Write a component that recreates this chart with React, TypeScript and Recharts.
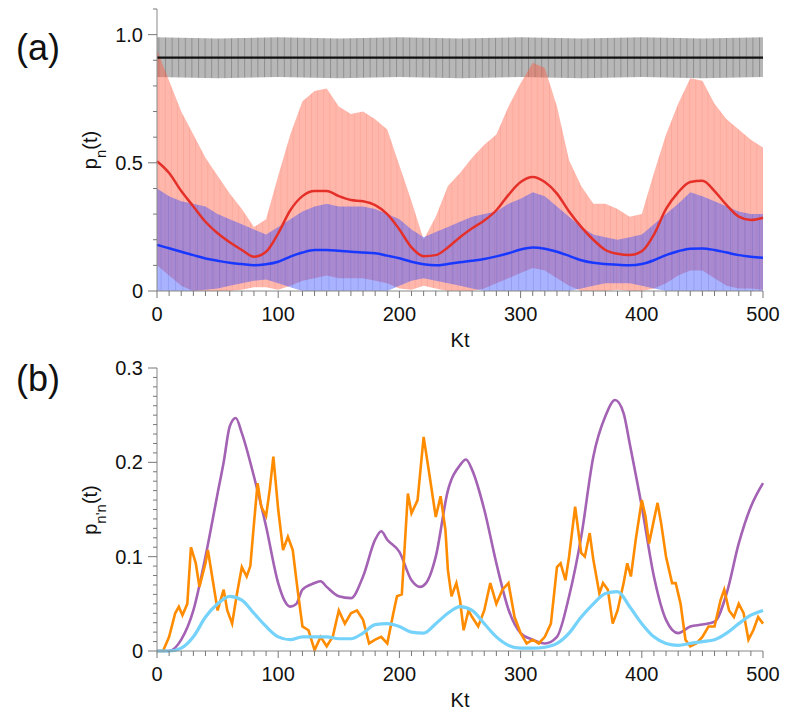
import React from 'react'
import { ComposedChart, Area, Line, XAxis, YAxis } from 'recharts'

// time axis of panel (a), every 10 units of Kt
const KT = Array.from({ length: 51 }, (_, i) => i * 10)

// panel (a): envelopes of the fast oscillations and their time averages
const RED_HI = [0.94, 0.82, 0.7, 0.61, 0.52, 0.45, 0.38, 0.32, 0.25, 0.28, 0.45, 0.61, 0.74, 0.78, 0.79, 0.72, 0.69, 0.7, 0.67, 0.63, 0.49, 0.35, 0.2, 0.29, 0.41, 0.46, 0.52, 0.57, 0.61, 0.72, 0.81, 0.89, 0.87, 0.72, 0.51, 0.41, 0.34, 0.34, 0.32, 0.29, 0.3, 0.46, 0.61, 0.73, 0.83, 0.82, 0.73, 0.67, 0.63, 0.59, 0.56]
const RED_LO = [0.1, 0.06, 0.02, 0, 0, 0, 0, 0.005, 0.015, 0.015, 0.005, 0.02, 0.04, 0.05, 0.06, 0.05, 0.05, 0.05, 0.04, 0.03, 0.01, 0.005, 0.02, 0.01, 0, 0, 0, 0.01, 0.03, 0.05, 0.07, 0.09, 0.08, 0.05, 0.02, 0, 0, 0, 0.005, 0, 0, 0.01, 0.03, 0.06, 0.08, 0.08, 0.05, 0.02, 0.01, 0.01, 0.005]
const RED_MEAN = [0.506, 0.46, 0.39, 0.33, 0.27, 0.225, 0.19, 0.16, 0.134, 0.153, 0.225, 0.315, 0.37, 0.39, 0.39, 0.37, 0.355, 0.35, 0.335, 0.3, 0.24, 0.17, 0.136, 0.14, 0.17, 0.21, 0.245, 0.275, 0.315, 0.375, 0.425, 0.445, 0.425, 0.38, 0.31, 0.25, 0.2, 0.16, 0.145, 0.14, 0.155, 0.22, 0.32, 0.385, 0.425, 0.43, 0.39, 0.335, 0.29, 0.277, 0.286]
const BLUE_HI = [0.4, 0.37, 0.35, 0.34, 0.33, 0.3, 0.28, 0.26, 0.24, 0.22, 0.25, 0.28, 0.31, 0.33, 0.34, 0.33, 0.33, 0.33, 0.32, 0.3, 0.28, 0.24, 0.21, 0.23, 0.25, 0.27, 0.29, 0.3, 0.31, 0.34, 0.36, 0.385, 0.37, 0.33, 0.29, 0.25, 0.22, 0.21, 0.2, 0.21, 0.22, 0.26, 0.3, 0.34, 0.385, 0.37, 0.35, 0.33, 0.31, 0.3, 0.3]
const BLUE_LO = [0, 0, 0, 0, 0.005, 0.01, 0.02, 0.03, 0.04, 0.045, 0.03, 0.015, 0, 0, 0, 0, 0, 0, 0, 0, 0.02, 0.04, 0.05, 0.04, 0.03, 0.02, 0.01, 0, 0, 0, 0, 0, 0, 0, 0, 0.01, 0.02, 0.03, 0.03, 0.03, 0.02, 0.01, 0, 0, 0, 0, 0, 0, 0, 0, 0]
const BLUE_MEAN = [0.18, 0.167, 0.153, 0.14, 0.127, 0.118, 0.11, 0.105, 0.1, 0.104, 0.114, 0.134, 0.15, 0.16, 0.16, 0.157, 0.153, 0.15, 0.147, 0.138, 0.128, 0.114, 0.104, 0.1, 0.105, 0.112, 0.118, 0.125, 0.135, 0.147, 0.162, 0.17, 0.165, 0.153, 0.137, 0.12, 0.11, 0.105, 0.102, 0.1, 0.105, 0.12, 0.14, 0.155, 0.165, 0.166, 0.16, 0.15, 0.14, 0.134, 0.13]

// n = 0 level: coarse grid
const GRAY_T = [0, 50, 100, 150, 200, 250, 300, 350, 400, 450, 500]
const GRAY_HI = [0.99, 0.985, 0.99, 0.985, 0.99, 0.985, 0.99, 0.985, 0.99, 0.985, 0.99]
const GRAY_LO = [0.835, 0.83, 0.835, 0.83, 0.835, 0.83, 0.835, 0.83, 0.835, 0.83, 0.835]
const GRAY_MEAN = [0.91, 0.91, 0.91, 0.91, 0.91, 0.91, 0.91, 0.91, 0.91, 0.91, 0.91]

// panel (b): [Kt, p] pairs
const PURPLE = [[0, 0], [10, 0], [20, 0.012], [30, 0.043], [40, 0.1], [50, 0.167], [55, 0.2], [60, 0.238], [65, 0.247], [70, 0.231], [80, 0.185], [90, 0.132], [100, 0.072], [105, 0.054], [110, 0.047], [115, 0.05], [120, 0.065], [130, 0.072], [135, 0.074], [140, 0.068], [150, 0.058], [160, 0.056], [170, 0.079], [180, 0.118], [185, 0.127], [190, 0.118], [200, 0.105], [210, 0.075], [217, 0.068], [222, 0.072], [230, 0.1], [240, 0.17], [250, 0.197], [255, 0.203], [260, 0.192], [270, 0.15], [280, 0.093], [290, 0.044], [300, 0.019], [310, 0.012], [320, 0.008], [330, 0.015], [340, 0.058], [350, 0.121], [360, 0.206], [370, 0.249], [378, 0.266], [385, 0.252], [390, 0.22], [400, 0.153], [410, 0.079], [420, 0.033], [430, 0.019], [440, 0.026], [450, 0.028], [460, 0.031], [470, 0.061], [480, 0.114], [490, 0.153], [500, 0.178]]
const ORANGE = [[0, 0], [5, 0], [10, 0.015], [15, 0.04], [18, 0.047], [21, 0.038], [25, 0.05], [28, 0.11], [32, 0.093], [35, 0.068], [40, 0.093], [42, 0.107], [46, 0.075], [50, 0.043], [55, 0.065], [58, 0.043], [62, 0.029], [66, 0.061], [70, 0.089], [74, 0.079], [77, 0.09], [80, 0.135], [83, 0.178], [86, 0.153], [90, 0.143], [93, 0.171], [96, 0.206], [100, 0.15], [104, 0.107], [108, 0.121], [112, 0.107], [116, 0.065], [120, 0.026], [125, 0.022], [130, 0.001], [135, 0.015], [140, 0.005], [145, 0.015], [150, 0.043], [155, 0.029], [160, 0.04], [165, 0.043], [170, 0.033], [175, 0.008], [180, 0.012], [185, 0.015], [190, 0.008], [195, 0.04], [198, 0.058], [202, 0.06], [207, 0.167], [210, 0.146], [215, 0.16], [220, 0.227], [225, 0.185], [230, 0.142], [234, 0.164], [238, 0.128], [240, 0.086], [243, 0.058], [247, 0.072], [250, 0.054], [253, 0.022], [257, 0.043], [260, 0.036], [265, 0.026], [270, 0.043], [275, 0.072], [280, 0.05], [285, 0.065], [290, 0.072], [295, 0.036], [300, 0.019], [305, 0.008], [310, 0.012], [315, 0.008], [320, 0.015], [325, 0.029], [330, 0.089], [333, 0.093], [337, 0.075], [340, 0.1], [345, 0.153], [350, 0.104], [353, 0.1], [357, 0.125], [360, 0.097], [365, 0.061], [368, 0.072], [372, 0.065], [376, 0.029], [380, 0.043], [385, 0.072], [388, 0.093], [391, 0.079], [395, 0.118], [400, 0.16], [403, 0.143], [406, 0.114], [410, 0.139], [413, 0.157], [416, 0.135], [420, 0.1], [425, 0.072], [428, 0.072], [432, 0.05], [436, 0.012], [440, 0.005], [445, 0.008], [450, 0.015], [455, 0.026], [460, 0.026], [465, 0.054], [468, 0.065], [472, 0.043], [476, 0.036], [480, 0.05], [484, 0.04], [488, 0.012], [492, 0.022], [496, 0.036], [500, 0.029]]
const CYAN = [0, 0, 0.003, 0.015, 0.036, 0.05, 0.058, 0.054, 0.04, 0.026, 0.015, 0.012, 0.015, 0.015, 0.015, 0.013, 0.013, 0.019, 0.028, 0.029, 0.026, 0.02, 0.019, 0.029, 0.04, 0.047, 0.043, 0.029, 0.015, 0.006, 0.003, 0.003, 0.004, 0.008, 0.019, 0.036, 0.05, 0.061, 0.063, 0.047, 0.029, 0.015, 0.008, 0.006, 0.008, 0.01, 0.012, 0.019, 0.029, 0.038, 0.043]

const X_TICKS = KT
const A_TICKS = [0, 0.1, 0.2, 0.3, 0.4, 0.5, 0.6, 0.7, 0.8, 0.9, 1.0, 1.1]
const B_TICKS = Array.from({ length: 31 }, (_, i) => i / 100)

const FONT = '"Liberation Sans", Arial, Helvetica, sans-serif'

const rowsA = KT.map((t, i) => ({
  t,
  red: [RED_LO[i], RED_HI[i]],
  redMean: RED_MEAN[i],
  blue: [BLUE_LO[i], BLUE_HI[i]],
  blueMean: BLUE_MEAN[i],
}))
const rowsGray = GRAY_T.map((t, i) => ({ t, gray: [GRAY_LO[i], GRAY_HI[i]], mean: GRAY_MEAN[i] }))
const rowsPurple = PURPLE.map(([t, p]) => ({ t, p }))
const rowsOrange = ORANGE.map(([t, p]) => ({ t, p }))
const rowsCyan = KT.map((t, i) => ({ t, p: CYAN[i] }))

const XTick = (props: any) => {
  const { x, y, payload } = props
  const v = payload.value
  const major = v % 100 === 0
  return (
    <g>
      <line x1={x} x2={x} y1={y} y2={y + (major ? 7 : 5)} stroke='#777' />
      {major && (
        <text x={x} y={y + 23} textAnchor='middle' dominantBaseline='central' fontSize={20} fill='#111' fontFamily={FONT}>
          {v}
        </text>
      )}
    </g>
  )
}

// step: spacing of minor ticks, every: how many minor steps per labelled tick, last: highest labelled index
const makeYTick = (step: number, every: number, last: number) => (props: any) => {
  const { x, y, payload } = props
  const k = Math.round(payload.value / step)
  const isLabel = k % every === 0 && k <= last
  return (
    <g>
      <line x1={x - (isLabel ? 9 : 4)} x2={x} y1={y} y2={y} stroke='#777' />
      {isLabel && (
        <text x={x - 14} y={y} textAnchor='end' dominantBaseline='central' fontSize={20} fill='#111' fontFamily={FONT}>
          {payload.value === 0 ? '0' : payload.value.toFixed(1)}
        </text>
      )}
    </g>
  )
}

const YTickA = makeYTick(0.1, 5, 10)
const YTickB = makeYTick(0.01, 10, 30)

const KtLabel = (props: any) => {
  const vb = props.viewBox || {}
  return (
    <text x={vb.x + vb.width / 2} y={vb.y + 49} textAnchor='middle' dominantBaseline='central' fontSize={20} fill='#111' fontFamily={FONT}>
      Kt
    </text>
  )
}

const PLabel = (sub: string, cy: number) => () => (
  <text transform={`translate(97,${cy}) rotate(-90)`} textAnchor='middle' fontSize={20} fill='#111' fontFamily={FONT}>
    p<tspan baselineShift='sub' fontSize={15}>{sub}</tspan>(t)
  </text>
)

const PanelLetter = ({ text, top }: { text: string; top: number }) => (
  <div style={{ position: 'absolute', left: 16, top, fontSize: 36, fontFamily: FONT, color: '#111', lineHeight: '40px' }}>{text}</div>
)

export default function App(): JSX.Element {
  return (
    <div style={{ position: 'absolute', left: 0, top: 0, width: 789, height: 725, background: '#fff', fontFamily: FONT }}>
      <PanelLetter text='(a)' top={28} />
      <PanelLetter text='(b)' top={359} />

      <div style={{ position: 'absolute', left: 0, top: 0 }}>
        <ComposedChart width={789} height={360} margin={{ top: 9, right: 26, bottom: 9, left: 97 }}>
          <defs>
            <pattern id='grayTex' width='6.6' height='8' patternUnits='userSpaceOnUse'>
              <rect width='6.6' height='8' fill='#b7b7b7' />
              <rect width='1' height='8' fill='#909090' />
            </pattern>
            <pattern id='redTex' width='6.1' height='8' patternUnits='userSpaceOnUse'>
              <rect width='6.1' height='8' fill='#ff5a40' fillOpacity={0.44} />
              <rect width='0.7' height='8' fill='#e0503a' fillOpacity={0.18} />
            </pattern>
            <pattern id='blueTex' width='7.3' height='8' patternUnits='userSpaceOnUse'>
              <rect width='7.3' height='8' fill='#3c50ff' fillOpacity={0.44} />
              <rect width='0.7' height='8' fill='#2030b0' fillOpacity={0.22} />
            </pattern>
          </defs>
          <XAxis
            type='number'
            dataKey='t'
            domain={[0, 500]}
            ticks={X_TICKS}
            interval={0}
            tickSize={0}
            tickMargin={0}
            tickLine={false}
            tick={<XTick />}
            axisLine={{ stroke: '#888' }}
            height={60}
            label={<KtLabel />}
          />
          <YAxis
            type='number'
            domain={[0, 1.1]}
            ticks={A_TICKS}
            interval={0}
            tickSize={0}
            tickMargin={0}
            tickLine={false}
            tick={<YTickA />}
            axisLine={{ stroke: '#888' }}
            width={60}
            label={PLabel('n', 150)}
          />
          <Area data={rowsGray} dataKey='gray' type='linear' stroke='none' fill='url(#grayTex)' fillOpacity={1} isAnimationActive={false} />
          <Line data={rowsGray} dataKey='mean' type='linear' stroke='#111' strokeWidth={2.2} dot={false} isAnimationActive={false} />
          <Area data={rowsA} dataKey='red' type='linear' stroke='none' fill='url(#redTex)' fillOpacity={1} isAnimationActive={false} />
          <Line data={rowsA} dataKey='redMean' type='monotone' stroke='#e5302a' strokeWidth={2.5} dot={false} isAnimationActive={false} />
          <Area data={rowsA} dataKey='blue' type='linear' stroke='none' fill='url(#blueTex)' fillOpacity={1} isAnimationActive={false} />
          <Line data={rowsA} dataKey='blueMean' type='monotone' stroke='#1838ff' strokeWidth={2.5} dot={false} isAnimationActive={false} />
        </ComposedChart>
      </div>

      <div style={{ position: 'absolute', left: 0, top: 340 }}>
        <ComposedChart width={789} height={385} margin={{ top: 28, right: 26, bottom: 14, left: 97 }}>
          <XAxis
            type='number'
            dataKey='t'
            domain={[0, 500]}
            ticks={X_TICKS}
            interval={0}
            tickSize={0}
            tickMargin={0}
            tickLine={false}
            tick={<XTick />}
            axisLine={{ stroke: '#888' }}
            height={60}
            label={<KtLabel />}
          />
          <YAxis
            type='number'
            domain={[0, 0.3]}
            ticks={B_TICKS}
            interval={0}
            tickSize={0}
            tickMargin={0}
            tickLine={false}
            tick={<YTickB />}
            axisLine={{ stroke: '#888' }}
            width={60}
            label={PLabel("n'n", 170)}
          />
          <Line data={rowsPurple} dataKey='p' type='monotone' stroke='#a362b3' strokeWidth={2.6} dot={false} isAnimationActive={false} />
          <Line data={rowsOrange} dataKey='p' type='linear' stroke='#ff8c00' strokeWidth={2.6} dot={false} isAnimationActive={false} />
          <Line data={rowsCyan} dataKey='p' type='monotone' stroke='#74d2fb' strokeWidth={3.2} dot={false} isAnimationActive={false} />
        </ComposedChart>
      </div>
    </div>
  )
}
